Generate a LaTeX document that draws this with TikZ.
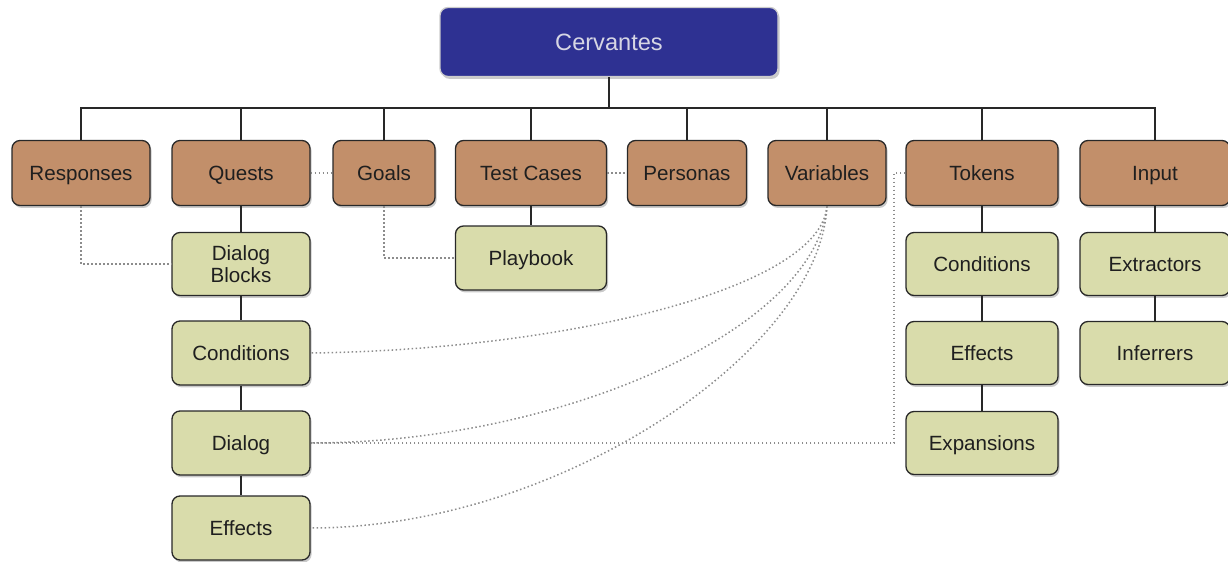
\documentclass[tikz,border=0pt]{standalone}
\usepackage{fontspec}
\setmainfont{Liberation Sans}
\usetikzlibrary{shadows}
\definecolor{cblue}{RGB}{46,49,146}
\definecolor{cbrown}{RGB}{194,143,106}
\definecolor{cgreen}{RGB}{217,220,171}
\definecolor{cedge}{RGB}{40,40,40}
\definecolor{cdot}{RGB}{140,140,140}
\definecolor{ctitle}{RGB}{214,214,228}
\tikzset{
  box/.style={draw=cedge, line width=0.65pt, rounded corners=4pt, inner sep=0pt,
    align=center, font=\fontsize{10.3}{12}\selectfont, text=black!88,
    text height=7.4pt, text depth=0pt,
    drop shadow={shadow xshift=0.8pt, shadow yshift=-1.2pt, opacity=0.35, fill=black!60}},
  top/.style={box, fill=cblue, text=ctitle, font=\fontsize{11.8}{14}\selectfont,
    text height=8.5pt, draw=white!80!black},
  cat/.style={box, fill=cbrown},
  sub/.style={box, fill=cgreen},
  tree/.style={draw=cedge, line width=0.55pt},
  dots/.style={draw=cdot, line width=0.75pt, dash pattern=on 0.75pt off 1.25pt},
}
\begin{document}
\begin{tikzpicture}[x=0.5pt, y=-0.5pt]
\useasboundingbox (0,0) rectangle (1228,562);
\node[top, minimum width=169pt, minimum height=34.5pt] (cerv) at (609,42) {Cervantes};
% top row
\node[cat, minimum width=69pt, minimum height=32.5pt] (resp) at (81,173) {Responses};
\node[cat, minimum width=69pt, minimum height=32.5pt] (quests) at (241,173) {Quests};
\node[cat, minimum width=51pt, minimum height=32.5pt] (goals) at (384,173) {Goals};
\node[cat, minimum width=75.5pt, minimum height=32.5pt] (tests) at (531,173) {Test Cases};
\node[cat, minimum width=59.5pt, minimum height=32.5pt] (pers) at (687,173) {Personas};
\node[cat, minimum width=59pt, minimum height=32.5pt] (vars) at (827,173) {Variables};
\node[cat, minimum width=76pt, minimum height=32.5pt] (tokens) at (982,173) {Tokens};
\node[cat, minimum width=75pt, minimum height=32.5pt] (input) at (1155,173) {Input};
% quests column
\node[sub, minimum width=69pt, minimum height=31.5pt, text height=18.4pt] (dblocks) at (241,264) {Dialog\\[-1pt]Blocks};
\node[sub, minimum width=69pt, minimum height=32pt] (qcond) at (241,353) {Conditions};
\node[sub, minimum width=69pt, minimum height=32pt] (qdialog) at (241,443) {Dialog};
\node[sub, minimum width=69pt, minimum height=32pt] (qeff) at (241,528) {Effects};
% test cases
\node[sub, minimum width=75.5pt, minimum height=32pt] (play) at (531,258) {Playbook};
% tokens column
\node[sub, minimum width=76pt, minimum height=31.5pt] (tcond) at (982,264) {Conditions};
\node[sub, minimum width=76pt, minimum height=31.5pt] (teff) at (982,353) {Effects};
\node[sub, minimum width=76pt, minimum height=31.5pt] (texp) at (982,443) {Expansions};
% input column
\node[sub, minimum width=75pt, minimum height=31.5pt] (extr) at (1155,264) {Extractors};
\node[sub, minimum width=75pt, minimum height=31.5pt] (infer) at (1155,353) {Inferrers};
% tree
\coordinate (bus) at (609,108);
\draw[tree] (cerv.south) -- (bus);
\foreach \n in {resp,quests,goals,tests,pers,vars,tokens,input}
  \draw[tree] (bus) -| (\n.north);
\draw[tree] (quests) -- (dblocks) -- (qcond) -- (qdialog) -- (qeff);
\draw[tree] (tests) -- (play);
\draw[tree] (tokens) -- (tcond) -- (teff) -- (texp);
\draw[tree] (input) -- (extr) -- (infer);
% dotted
\draw[dots] (quests.east) -- (goals.west);
\draw[dots] (tests.east) -- (pers.west);
\draw[dots] (resp.south) |- (dblocks.west);
\draw[dots] (goals.south) |- (play.west);
\coordinate (tk1) at (894,173);
\coordinate (tk2) at (894,443);
\draw[dots] (tokens.west) -- (tk1) -- (tk2) -- (qdialog.east);
\draw[dots] (vars.south) .. controls (820,290) and (560,350) .. (qcond.east);
\draw[dots] (vars.south) .. controls (815,330) and (560,443) .. (qdialog.east);
\draw[dots] (vars.south) .. controls (820,350) and (560,528) .. (qeff.east);
\end{tikzpicture}
\end{document}
